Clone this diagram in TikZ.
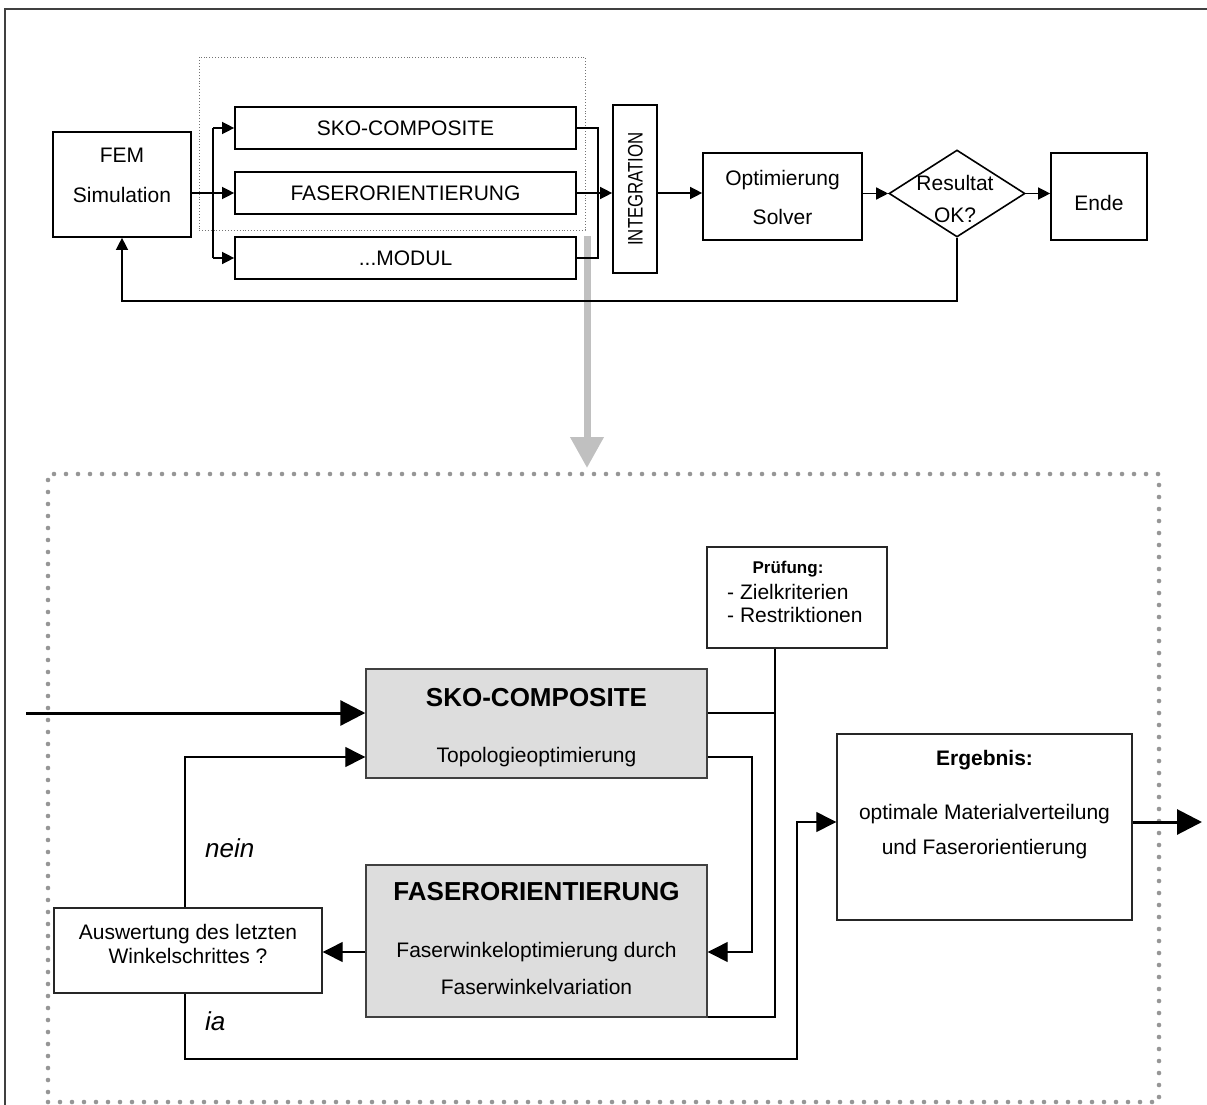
\documentclass[tikz,border=0pt]{standalone}
\usepackage{fontspec}
\usepackage{graphicx}
\setmainfont{Liberation Sans}
\usetikzlibrary{arrows.meta,shapes.geometric}
\definecolor{boxgray}{RGB}{221,221,221}
\definecolor{arrowgray}{RGB}{192,192,192}
\definecolor{dotgray}{RGB}{150,150,150}
\definecolor{framegray}{RGB}{64,64,64}
\begin{document}
\begin{tikzpicture}[x=1pt,y=-1pt,
  box/.style={draw=black, line width=1.7pt, rectangle, inner sep=0pt},
  graybox/.style={draw=black!75, line width=1.4pt, fill=boxgray, rectangle, inner sep=0pt},
  plainbox/.style={draw=black!85, line width=1.4pt, fill=white, rectangle, inner sep=0pt},
  txt/.style={inner sep=0pt, font=\fontsize{21}{25}\selectfont, text height=15pt, text depth=0pt},
  head/.style={inner sep=0pt, font=\bfseries\fontsize{26}{30}\selectfont, text height=18.6pt, text depth=0pt},
  small head/.style={inner sep=0pt, font=\bfseries\fontsize{17}{21}\selectfont, text height=12.2pt, text depth=0pt},
  note/.style={inner sep=0pt, font=\itshape\fontsize{26}{30}\selectfont, text height=18.6pt, text depth=0pt},
  conn/.style={line width=1.4pt},
  arr/.style={conn, -{Triangle[length=12pt,width=12pt]}},
  arrb/.style={line width=1.3pt, -{Triangle[length=20pt,width=20pt]}},
  thickarr/.style={line width=3pt, -{Triangle[length=25pt,width=25pt]}},
]
\useasboundingbox (0,0) rectangle (1207,1105);

% page frame (left and top edges)
\draw[framegray, line width=1.3pt] (5,1105) -- (5,9) -- (1207,9);

% ---------------- overview process ----------------
\node[draw=black!55, dotted, line width=0.9pt, minimum width=386pt, minimum height=173pt, inner sep=0pt] (grp) at (392,143.5) {};

\node[box, minimum width=138pt, minimum height=105pt] (fem) at (122,184.5) {};
\node[box, minimum width=341pt, minimum height=42pt] (sko1) at (405.5,128) {};
\node[box, minimum width=341pt, minimum height=42pt] (fas1) at (405.5,193) {};
\node[box, minimum width=341pt, minimum height=42pt] (mod1) at (405.5,258) {};
\node[box, minimum width=44pt, minimum height=168pt] (integ) at (635,189) {};
\node[box, minimum width=159pt, minimum height=87pt] (opt) at (782.5,196.5) {};
\node[draw, diamond, line width=1.6pt, minimum width=136pt, minimum height=87pt, inner sep=0pt] (dia) at (957,193.5) {};
\node[box, minimum width=96pt, minimum height=87pt] (ende) at (1099,196.5) {};

\node[txt] (tfem) at (122,155) {FEM};
\node[txt] (tsim) at (122,195) {Simulation};
\node[txt] (tsko1) at (405.5,128) {SKO-COMPOSITE};
\node[txt] (tfas1) at (405.5,193) {FASERORIENTIERUNG};
\node[txt] (tmod1) at (405.5,258) {...MODUL};
\node[txt, rotate=90] (tint) at (635,189) {\scalebox{0.8}[1]{INTEGRATION}};
\node[txt] (topt) at (782.5,178) {Optimierung};
\node[txt] (tsol) at (782.5,217) {Solver};
\node[txt] (tres) at (955,183) {Resultat};
\node[txt] (tok) at (955,215) {OK?};
\node[txt] (tende) at (1099,203) {Ende};

% hand-over arrow to the detail view
\coordinate (g1) at (587,236);
\coordinate (g2) at (587,468);
\draw[arrowgray, line width=7pt, -{Triangle[length=31pt,width=32pt]}] (g1) -- (g2);

% branching to the modules
\coordinate (br) at (213,193);
\draw[arr] (fem.east |- fas1.west) -- (fas1.west);
\draw[conn] (br |- sko1.west) -- (br |- mod1.west);
\draw[arr] (br |- sko1.west) -- (sko1.west);
\draw[arr] (br |- mod1.west) -- (mod1.west);

% merging into the integration
\coordinate (mg) at (598,193);
\draw[conn] (sko1.east) -- (mg |- sko1.east) -- (mg |- mod1.east) -- (mod1.east);
\draw[arr] (fas1.east) -- (fas1.east -| integ.west);

% main flow
\draw[arr] (integ.east |- fas1.east) -- (opt.west |- fas1.east);
\draw[arr] (opt.east |- dia.west) -- (dia.west);
\draw[arr] (dia.east) -- (dia.east -| ende.west);

% loop back to the simulation
\coordinate (rt) at (0,301);
\draw[arr] (dia.south) -- (dia.south |- rt) -| (fem.south);

% ---------------- detail view ----------------
\node[draw=dotgray, line width=4.6pt, line cap=round, dash pattern=on 0pt off 12pt, minimum width=1111pt, minimum height=628pt, inner sep=0pt] (detail) at (603.5,788) {};

\node[plainbox, minimum width=180pt, minimum height=101pt] (prf) at (797,597.5) {};
\node[graybox, minimum width=341pt, minimum height=109pt] (sko2) at (536.5,723.5) {};
\node[graybox, minimum width=341pt, minimum height=152pt] (fas2) at (536.5,941) {};
\node[plainbox, minimum width=268pt, minimum height=85pt] (ausw) at (188,950.5) {};
\node[plainbox, minimum width=295pt, minimum height=186pt] (erg) at (984.5,827) {};

\node[small head] (tprf) at (788,567) {Prüfung:};
\node[txt, anchor=west] (tziel) at (727,592) {- Zielkriterien};
\node[txt, anchor=west] (trest) at (727,615) {- Restriktionen};

\node[head] (tsko2) at (536.5,697) {SKO-COMPOSITE};
\node[txt] (ttop) at (536.5,755) {Topologieoptimierung};

\node[head] (tfas2) at (536.5,891) {FASERORIENTIERUNG};
\node[txt] (tfw1) at (536.5,950) {Faserwinkeloptimierung durch};
\node[txt] (tfw2) at (536.5,987) {Faserwinkelvariation};

\node[txt] (taw1) at (188,932) {Auswertung des letzten};
\node[txt] (taw2) at (188,956) {Winkelschrittes ?};

\node[inner sep=0pt, font=\bfseries\fontsize{21}{25}\selectfont, text height=15pt, text depth=0pt] (terg) at (984.5,758) {Ergebnis:};
\node[txt] (tom) at (984.5,812) {optimale Materialverteilung};
\node[txt] (tuf) at (984.5,847) {und Faserorientierung};

\node[note, anchor=west] (tnein) at (205,848) {nein};
\node[note, anchor=west] (tja) at (205,1021) {ia};

% input into the topology optimisation
\coordinate (in) at (26,713);
\draw[thickarr] (in) -- (in -| sko2.west);

% "nein": next iteration
\coordinate (a1) at (185,757);
\draw[arrb] (ausw.north -| a1) -- (a1) -- (a1 -| sko2.west);

% check against criteria and restrictions
\coordinate (b1) at (775,713);
\coordinate (b2) at (775,1017);
\draw[conn] (prf.south -| b1) -- (b2) -- (b2 -| fas2.east);
\draw[conn] (b1 -| sko2.east) -- (b1);

% topology result handed to fibre orientation
\coordinate (c1) at (752,757);
\coordinate (c2) at (752,952);
\draw[arrb] (c1 -| sko2.east) -- (c1) -- (c2) -- (c2 -| fas2.east);
\draw[arrb] (c2 -| fas2.west) -- (c2 -| ausw.east);

% "ja": final result
\coordinate (a2) at (185,1059);
\coordinate (a3) at (797,822);
\draw[arrb] (ausw.south -| a2) -- (a2) -| (a3) -- (a3 -| erg.west);
\coordinate (out) at (1202,822);
\draw[thickarr] (a3 -| erg.east) -- (out);

\end{tikzpicture}
\end{document}
